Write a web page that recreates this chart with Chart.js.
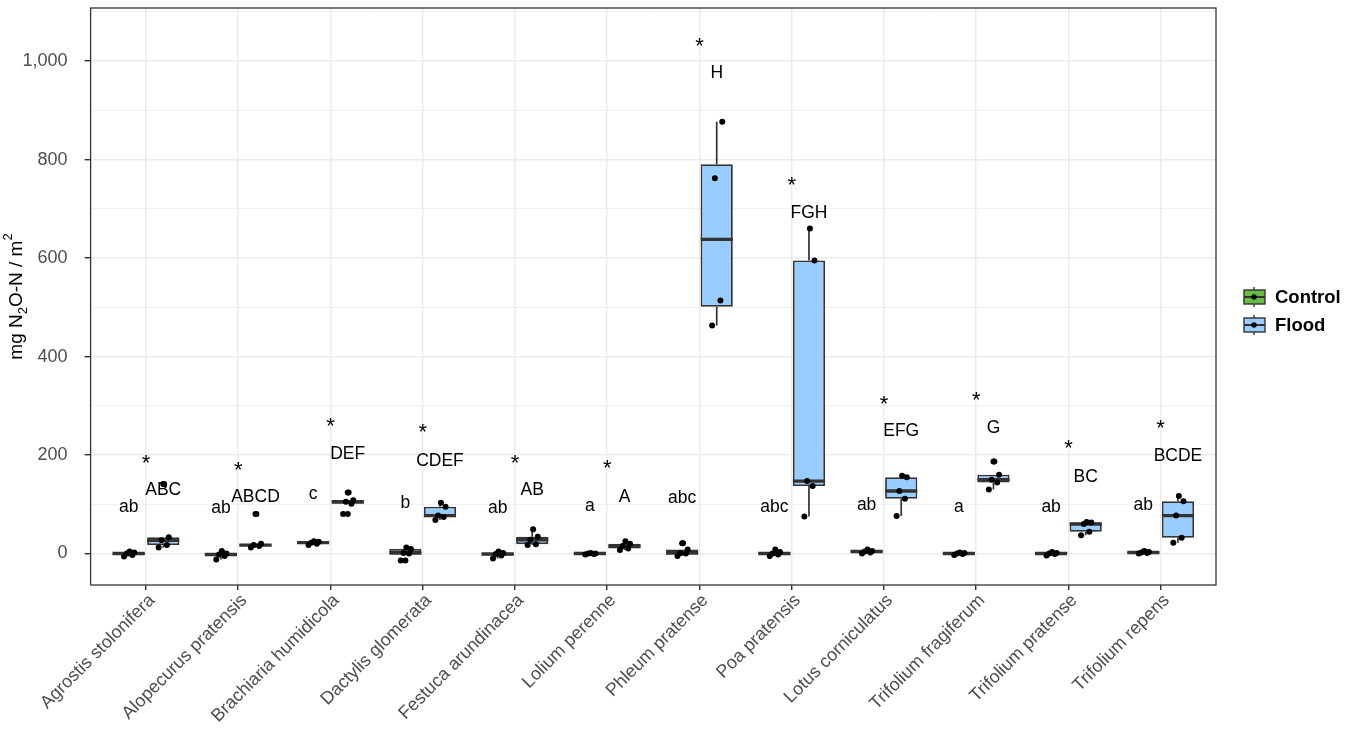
<!DOCTYPE html>
<html>
<head>
<meta charset="utf-8">
<script src="https://cdn.jsdelivr.net/npm/chart.js@4.4.1/dist/chart.umd.min.js"></script>
<style>
  html, body { margin: 0; padding: 0; background: #ffffff; }
</style>
</head>
<body>
<canvas id="chart" width="1358" height="731"></canvas>
<script>
// ---- data (mg N2O-N / m2) ----
const species = [
  'Agrostis stolonifera', 'Alopecurus pratensis', 'Brachiaria humidicola', 'Dactylis glomerata',
  'Festuca arundinacea', 'Lolium perenne', 'Phleum pratense', 'Poa pratensis',
  'Lotus corniculatus', 'Trifolium fragiferum', 'Trifolium pratense', 'Trifolium repens'
];

const controlN2O = [
  [-6, -3, 0, 2, 4],
  [-12, -5, -2, 0, 5],
  [17, 20, 22, 24, 25],
  [-14, 0, 1, 9, 12],
  [-10, -4, -1, 1, 4],
  [-2, -1, 0, 0, 1],
  [-5, 0, 1, 8, 21],
  [-5, -2, 0, 3, 8],
  [0, 2, 4, 5, 8],
  [-3, -1, 0, 1, 2],
  [-4, -1, 0, 1, 3],
  [0, 1, 2, 3, 5]
];

const floodN2O = [
  [12, 17, 27, 33, 141],
  [12, 15, 17, 20, 80],
  [80, 101, 105, 108, 124],
  [68, 74, 77, 95, 103],
  [17, 19, 28, 34, 49],
  [7, 10, 15, 20, 25],
  [463, 514, 762, 877],
  [75, 137, 147, 595, 660],
  [76, 111, 127, 155, 158],
  [130, 144, 150, 160, 187],
  [37, 44, 60, 63, 64],
  [22, 32, 77, 106, 117]
];

const controlLetters = ['ab', 'ab', 'c', 'b', 'ab', 'a', 'abc', 'abc', 'ab', 'a', 'ab', 'ab'];
const floodLetters = ['ABC', 'ABCD', 'DEF', 'CDEF', 'AB', 'A', 'H', 'FGH', 'EFG', 'G', 'BC', 'BCDE'];
const controlLetterY = [98, 96, 120, 106, 96, 96, 116, 98, 101, 95, 98, 101];
const floodLetterY = [131, 117, 206, 191, 131, 118, 979, 694, 251, 257, 158, 202];
const starY = [191, 178, 267, 254, 191, 181, 1039, 756, 312, 320, 222, 264];

const yMajor = [0, 200, 400, 600, 800, 1000];
const yGrid = [0, 100, 200, 300, 400, 500, 600, 700, 800, 900, 1000, 1100];

// ---- styling ----
const FONT = "'Liberation Sans', Arial, Helvetica, sans-serif";
const controlFill = '#66BD3F';
const floodFill = '#99CCFF';
const ink = '#333333';
const dodge = 0.1875;
const jitter = [-0.05, 0.04, -0.02, 0.06, 0.01];

// type 7 quantile (R default)
function quantile(sorted, p) {
  const h = (sorted.length - 1) * p;
  const lo = Math.floor(h);
  const hi = Math.min(lo + 1, sorted.length - 1);
  return sorted[lo] + (h - lo) * (sorted[hi] - sorted[lo]);
}

function boxStats(values) {
  const s = [...values].sort((a, b) => a - b);
  const q1 = quantile(s, 0.25), med = quantile(s, 0.5), q3 = quantile(s, 0.75);
  const iqr = q3 - q1;
  const inside = s.filter(v => v >= q1 - 1.5 * iqr && v <= q3 + 1.5 * iqr);
  return {
    q1, med, q3,
    lo: Math.min(...inside),
    hi: Math.max(...inside),
    out: s.filter(v => v < q1 - 1.5 * iqr || v > q3 + 1.5 * iqr)
  };
}

const controlStats = controlN2O.map(boxStats);
const floodStats = floodN2O.map(boxStats);

function boxData(stats) {
  return stats.map((s, i) => ({ x: i, y: [s.q1, s.q3] }));
}

function pointData(groups, shift) {
  const pts = [];
  groups.forEach((vals, i) => {
    vals.forEach((v, j) => pts.push({ x: i + shift + jitter[j % jitter.length], y: v }));
  });
  return pts;
}

// whiskers, medians and outliers drawn on top of each floating bar
const boxExtras = {
  id: 'boxExtras',
  afterDatasetDraw(chart, args) {
    const ds = chart.data.datasets[args.index];
    if (!ds.stats) return;
    const ctx = chart.ctx;
    const y = chart.scales.y;
    ctx.save();
    ctx.strokeStyle = ink;
    ctx.fillStyle = '#000000';
    args.meta.data.forEach((bar, i) => {
      const s = ds.stats[i];
      const half = bar.width / 2;
      ctx.lineWidth = 1.7;
      ctx.beginPath();
      ctx.moveTo(bar.x, y.getPixelForValue(s.q3));
      ctx.lineTo(bar.x, y.getPixelForValue(s.hi));
      ctx.moveTo(bar.x, y.getPixelForValue(s.q1));
      ctx.lineTo(bar.x, y.getPixelForValue(s.lo));
      ctx.stroke();
      ctx.lineWidth = 3.4;
      ctx.beginPath();
      ctx.moveTo(bar.x - half, y.getPixelForValue(s.med));
      ctx.lineTo(bar.x + half, y.getPixelForValue(s.med));
      ctx.stroke();
      s.out.forEach(v => {
        ctx.beginPath();
        ctx.arc(bar.x, y.getPixelForValue(v), 3, 0, Math.PI * 2);
        ctx.fill();
      });
    });
    ctx.restore();
  }
};

function centeredText(ctx, txt, x, y) {
  const m = ctx.measureText(txt);
  ctx.fillText(txt, x, y + (m.actualBoundingBoxAscent - m.actualBoundingBoxDescent) / 2);
}

const annotations = {
  id: 'annotations',
  afterDatasetsDraw(chart) {
    const ctx = chart.ctx;
    const xs = chart.scales.x, ys = chart.scales.y;
    ctx.save();
    ctx.fillStyle = '#000000';
    ctx.textAlign = 'center';
    ctx.textBaseline = 'alphabetic';
    species.forEach((_, i) => {
      ctx.font = '17.5px ' + FONT;
      centeredText(ctx, controlLetters[i], xs.getPixelForValue(i - dodge), ys.getPixelForValue(controlLetterY[i]));
      centeredText(ctx, floodLetters[i], xs.getPixelForValue(i + dodge), ys.getPixelForValue(floodLetterY[i]));
      ctx.font = '22px ' + FONT;
      centeredText(ctx, '*', xs.getPixelForValue(i), ys.getPixelForValue(starY[i]));
    });
    ctx.restore();
  }
};

const frame = {
  id: 'frame',
  afterDraw(chart) {
    const { ctx, chartArea: a } = chart;
    ctx.save();
    ctx.strokeStyle = ink;
    ctx.lineWidth = 1.3;
    ctx.strokeRect(a.left, a.top, a.right - a.left, a.bottom - a.top);

    // y axis title with sub/superscript
    const parts = [
      { t: 'mg N', size: 19, dy: 0 },
      { t: '2', size: 13, dy: 6 },
      { t: 'O-N / m', size: 19, dy: 0 },
      { t: '2', size: 13, dy: -9 }
    ];
    ctx.translate(17, (a.top + a.bottom) / 2);
    ctx.rotate(-Math.PI / 2);
    ctx.fillStyle = '#000000';
    ctx.textBaseline = 'middle';
    let total = 0;
    parts.forEach(p => { ctx.font = p.size + 'px ' + FONT; total += ctx.measureText(p.t).width; });
    let x = -total / 2;
    parts.forEach(p => {
      ctx.font = p.size + 'px ' + FONT;
      ctx.fillText(p.t, x, p.dy);
      x += ctx.measureText(p.t).width;
    });
    ctx.restore();

    // legend
    const keys = [{ label: 'Control', fill: controlFill }, { label: 'Flood', fill: floodFill }];
    ctx.save();
    keys.forEach((k, n) => {
      const x0 = 1243, yc = 297 + n * 28, cx = x0 + 11;
      ctx.strokeStyle = ink;
      ctx.lineWidth = 1.4;
      ctx.beginPath();
      ctx.moveTo(cx, yc - 10);
      ctx.lineTo(cx, yc + 10);
      ctx.stroke();
      ctx.fillStyle = k.fill;
      ctx.fillRect(x0 + 1, yc - 7, 21, 14);
      ctx.strokeRect(x0 + 1, yc - 7, 21, 14);
      ctx.lineWidth = 2;
      ctx.beginPath();
      ctx.moveTo(x0 + 1, yc);
      ctx.lineTo(x0 + 22, yc);
      ctx.stroke();
      ctx.fillStyle = '#000000';
      ctx.beginPath();
      ctx.arc(cx, yc, 2.7, 0, Math.PI * 2);
      ctx.fill();
      ctx.font = 'bold 18.5px ' + FONT;
      ctx.textBaseline = 'middle';
      ctx.fillText(k.label, x0 + 32, yc + 1);
    });
    ctx.restore();
  }
};

new Chart(document.getElementById('chart'), {
  type: 'bar',
  data: {
    datasets: [
      {
        label: 'Control', data: boxData(controlStats), stats: controlStats,
        backgroundColor: controlFill, borderColor: ink, borderWidth: 1.8, borderSkipped: false,
        categoryPercentage: 0.75, barPercentage: 0.93, order: 2
      },
      {
        label: 'Flood', data: boxData(floodStats), stats: floodStats,
        backgroundColor: floodFill, borderColor: ink, borderWidth: 1.8, borderSkipped: false,
        categoryPercentage: 0.75, barPercentage: 0.93, order: 2
      },
      {
        type: 'scatter', label: 'Control points', data: pointData(controlN2O, -dodge),
        pointRadius: 3, backgroundColor: '#000000', borderWidth: 0, order: 1
      },
      {
        type: 'scatter', label: 'Flood points', data: pointData(floodN2O, dodge),
        pointRadius: 3, backgroundColor: '#000000', borderWidth: 0, order: 1
      }
    ]
  },
  options: {
    responsive: false,
    animation: false,
    devicePixelRatio: 1,
    layout: { padding: { top: 8, right: 142, left: 0, bottom: 0 } },
    plugins: { legend: { display: false }, tooltip: { enabled: false } },
    scales: {
      x: {
        type: 'linear', min: -0.6, max: 11.6, offset: false,
        afterBuildTicks: s => { s.ticks = species.map((_, i) => ({ value: i })); },
        afterFit: s => { s.height = 146; s.paddingLeft = 0; s.paddingRight = 0; },
        ticks: {
          autoSkip: false, minRotation: 45, maxRotation: 45,
          callback: v => species[v],
          color: '#4D4D4D', font: { size: 18, family: FONT }, padding: 0, labelOffset: 6
        },
        grid: { offset: false, color: '#EBEBEB', lineWidth: 1.4, tickColor: ink, tickLength: 5 },
        border: { display: false }
      },
      y: {
        min: -64, max: 1108,
        afterBuildTicks: s => { s.ticks = yGrid.map(v => ({ value: v })); },
        afterFit: s => { s.width = 90.6; s.paddingTop = 0; s.paddingBottom = 0; },
        ticks: {
          autoSkip: false,
          callback: v => yMajor.includes(v) ? v.toLocaleString('en-US') : '',
          color: '#4D4D4D', font: { size: 18, family: FONT }, padding: 17
        },
        grid: {
          color: '#EBEBEB',
          lineWidth: c => (c.tick && yMajor.includes(c.tick.value)) ? 1.4 : 0.7,
          tickColor: c => (c.tick && yMajor.includes(c.tick.value)) ? ink : 'rgba(0,0,0,0)',
          tickLength: 6
        },
        border: { display: false }
      }
    }
  },
  plugins: [boxExtras, annotations, frame]
});
</script>
</body>
</html>
